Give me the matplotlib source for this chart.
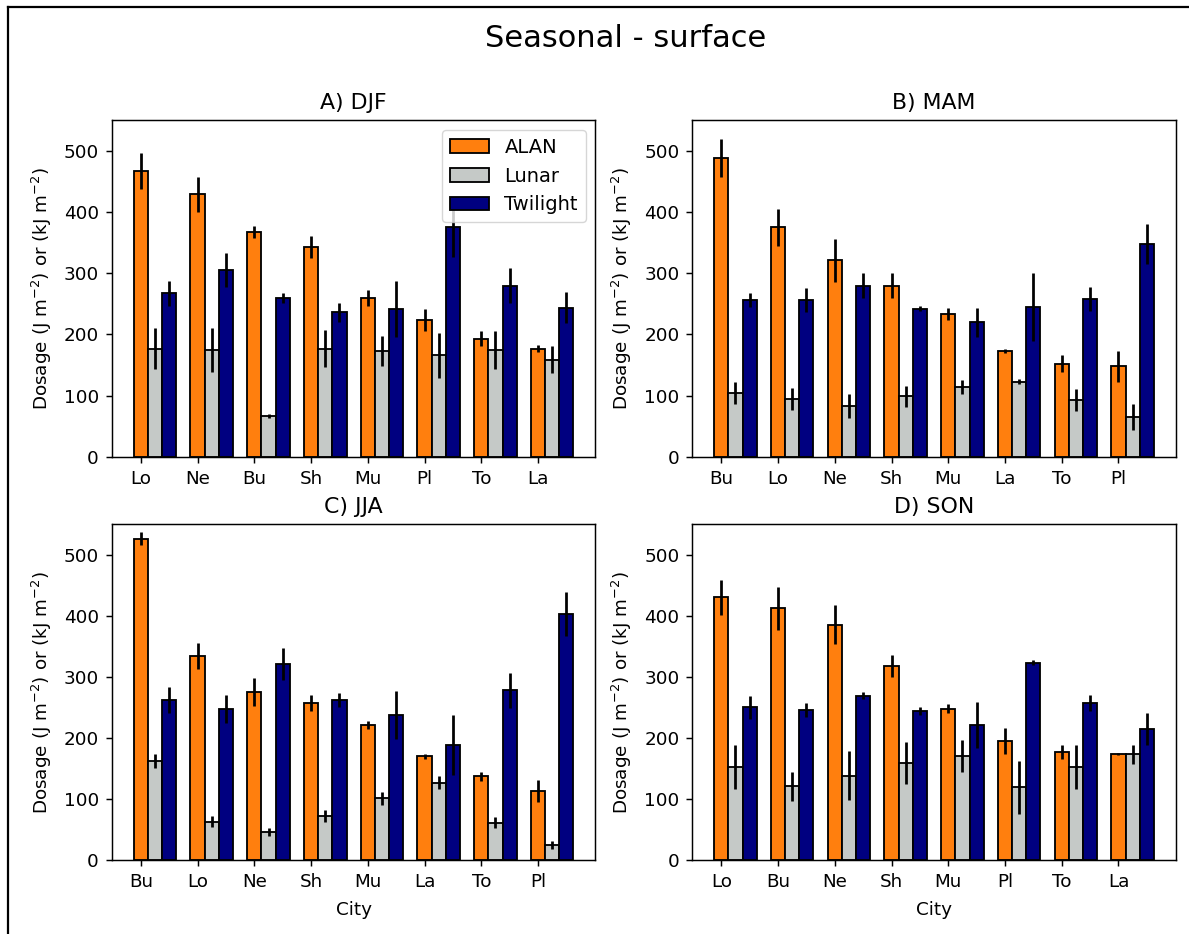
import numpy as np
import matplotlib
matplotlib.use("Agg")
import matplotlib.pyplot as plt
from matplotlib.lines import Line2D

###############################################################################
# Data
###############################################################################

seasons = ["A) DJF", "B) MAM", "C) JJA", "D) SON"]

djf_cities = ["Lo", "Ne", "Bu", "Sh", "Mu", "Pl", "To", "La"]
djf_alan = [467, 429, 368, 343, 260, 224, 193, 177]
djf_alan_err = [29, 29, 10, 18, 13, 18, 12, 5]
djf_lunar = [177, 175, 67, 177, 173, 166, 175, 159]
djf_lunar_err = [33, 36, 3, 30, 25, 37, 31, 22]
djf_twil = [267, 305, 260, 236, 242, 375, 280, 244]
djf_twil_err = [20, 28, 8, 15, 46, 48, 29, 25]

mam_cities = ["Bu", "Lo", "Ne", "Sh", "Mu", "La", "To", "Pl"]
mam_alan = [489, 375, 321, 280, 233, 173, 152, 148]
mam_alan_err = [31, 31, 35, 20, 10, 3, 14, 25]
mam_lunar = [105, 94, 83, 99, 114, 123, 92, 65]
mam_lunar_err = [18, 18, 20, 17, 12, 4, 18, 22]
mam_twil = [256, 256, 280, 242, 220, 245, 258, 348]
mam_twil_err = [11, 20, 20, 4, 24, 55, 19, 32]

jja_cities = ["Bu", "Lo", "Ne", "Sh", "Mu", "La", "To", "Pl"]
jja_alan = [526, 334, 275, 257, 221, 170, 137, 114]
jja_alan_err = [11, 21, 23, 13, 6, 4, 8, 18]
jja_lunar = [162, 63, 46, 72, 101, 127, 61, 25]
jja_lunar_err = [11, 9, 6, 10, 10, 10, 9, 6]
jja_twil = [262, 247, 321, 262, 237, 188, 278, 403]
jja_twil_err = [21, 23, 26, 11, 39, 49, 29, 36]

son_cities = ["Lo", "Bu", "Ne", "Sh", "Mu", "Pl", "To", "La"]
son_alan = [430, 412, 385, 318, 248, 195, 177, 174]
son_alan_err = [29, 35, 32, 18, 8, 21, 12, 2]
son_lunar = [152, 121, 138, 159, 170, 119, 152, 173]
son_lunar_err = [36, 24, 40, 34, 26, 43, 36, 16]
son_twil = [250, 246, 269, 244, 221, 323, 257, 215]
son_twil_err = [19, 11, 6, 7, 38, 4, 13, 26]

labels = ["ALAN", "Lunar", "Twilight"]
colours = ["#ff7f0e", "#c5c9c7", "#000080"]

###############################################################################
# Plot
###############################################################################

s = 1.32  # everything was drawn at ~100 dpi then scaled up
plt.rcParams["font.size"] = 10 * s
plt.rcParams["axes.linewidth"] = 0.8 * s
plt.rcParams["axes.labelpad"] = 4.0 * s + 2
plt.rcParams["axes.titlepad"] = 6.0 * s
plt.rcParams["xtick.major.size"] = 3.5 * s
plt.rcParams["ytick.major.size"] = 3.5 * s
plt.rcParams["xtick.major.width"] = 0.8 * s
plt.rcParams["ytick.major.width"] = 0.8 * s
plt.rcParams["xtick.major.pad"] = 3.5 * s
plt.rcParams["ytick.major.pad"] = 3.5 * s

fig, axes = plt.subplots(2, 2, figsize=(11.89, 9.34), dpi=100)
fig.subplots_adjust(left=0.094, right=0.989, bottom=0.079, top=0.871,
                    wspace=0.2, hspace=0.2)

panels = [
    (djf_cities, [djf_alan, djf_lunar, djf_twil], [djf_alan_err, djf_lunar_err, djf_twil_err]),
    (mam_cities, [mam_alan, mam_lunar, mam_twil], [mam_alan_err, mam_lunar_err, mam_twil_err]),
    (jja_cities, [jja_alan, jja_lunar, jja_twil], [jja_alan_err, jja_lunar_err, jja_twil_err]),
    (son_cities, [son_alan, son_lunar, son_twil], [son_alan_err, son_lunar_err, son_twil_err]),
]

width = 0.25
for k, ax in enumerate(axes.flat):
    cities, vals, errs = panels[k]
    x = np.arange(len(cities))
    for j in range(3):
        ax.bar(x + j * width, vals[j], width, yerr=errs[j], color=colours[j],
               edgecolor="black", linewidth=1.0 * s, label=labels[j],
               error_kw=dict(ecolor="black", elinewidth=1.5 * s, capsize=0))
    ax.set_xticks(x)
    ax.set_xticklabels(cities)
    ax.set_ylim(0, 550)
    ax.set_title(seasons[k], fontsize=12 * s)
    ax.set_ylabel(r"Dosage (J m$^{-2}$) or (kJ m$^{-2}$)")
    if k >= 2:
        ax.set_xlabel("City")

axes[0, 0].legend(loc="upper right", fontsize=14)

fig.text(0.5265, 0.959, "Seasonal - surface", ha="center", va="center",
         fontsize=22)

# frame of the original screenshot (top and left only)
fig.add_artist(Line2D([0.0065, 1.0], [0.9928, 0.9928], color="black", lw=1.6,
                      transform=fig.transFigure))
fig.add_artist(Line2D([0.0065, 0.0065], [0.0, 0.9928], color="black", lw=1.6,
                      transform=fig.transFigure))

plt.savefig("out.png")
